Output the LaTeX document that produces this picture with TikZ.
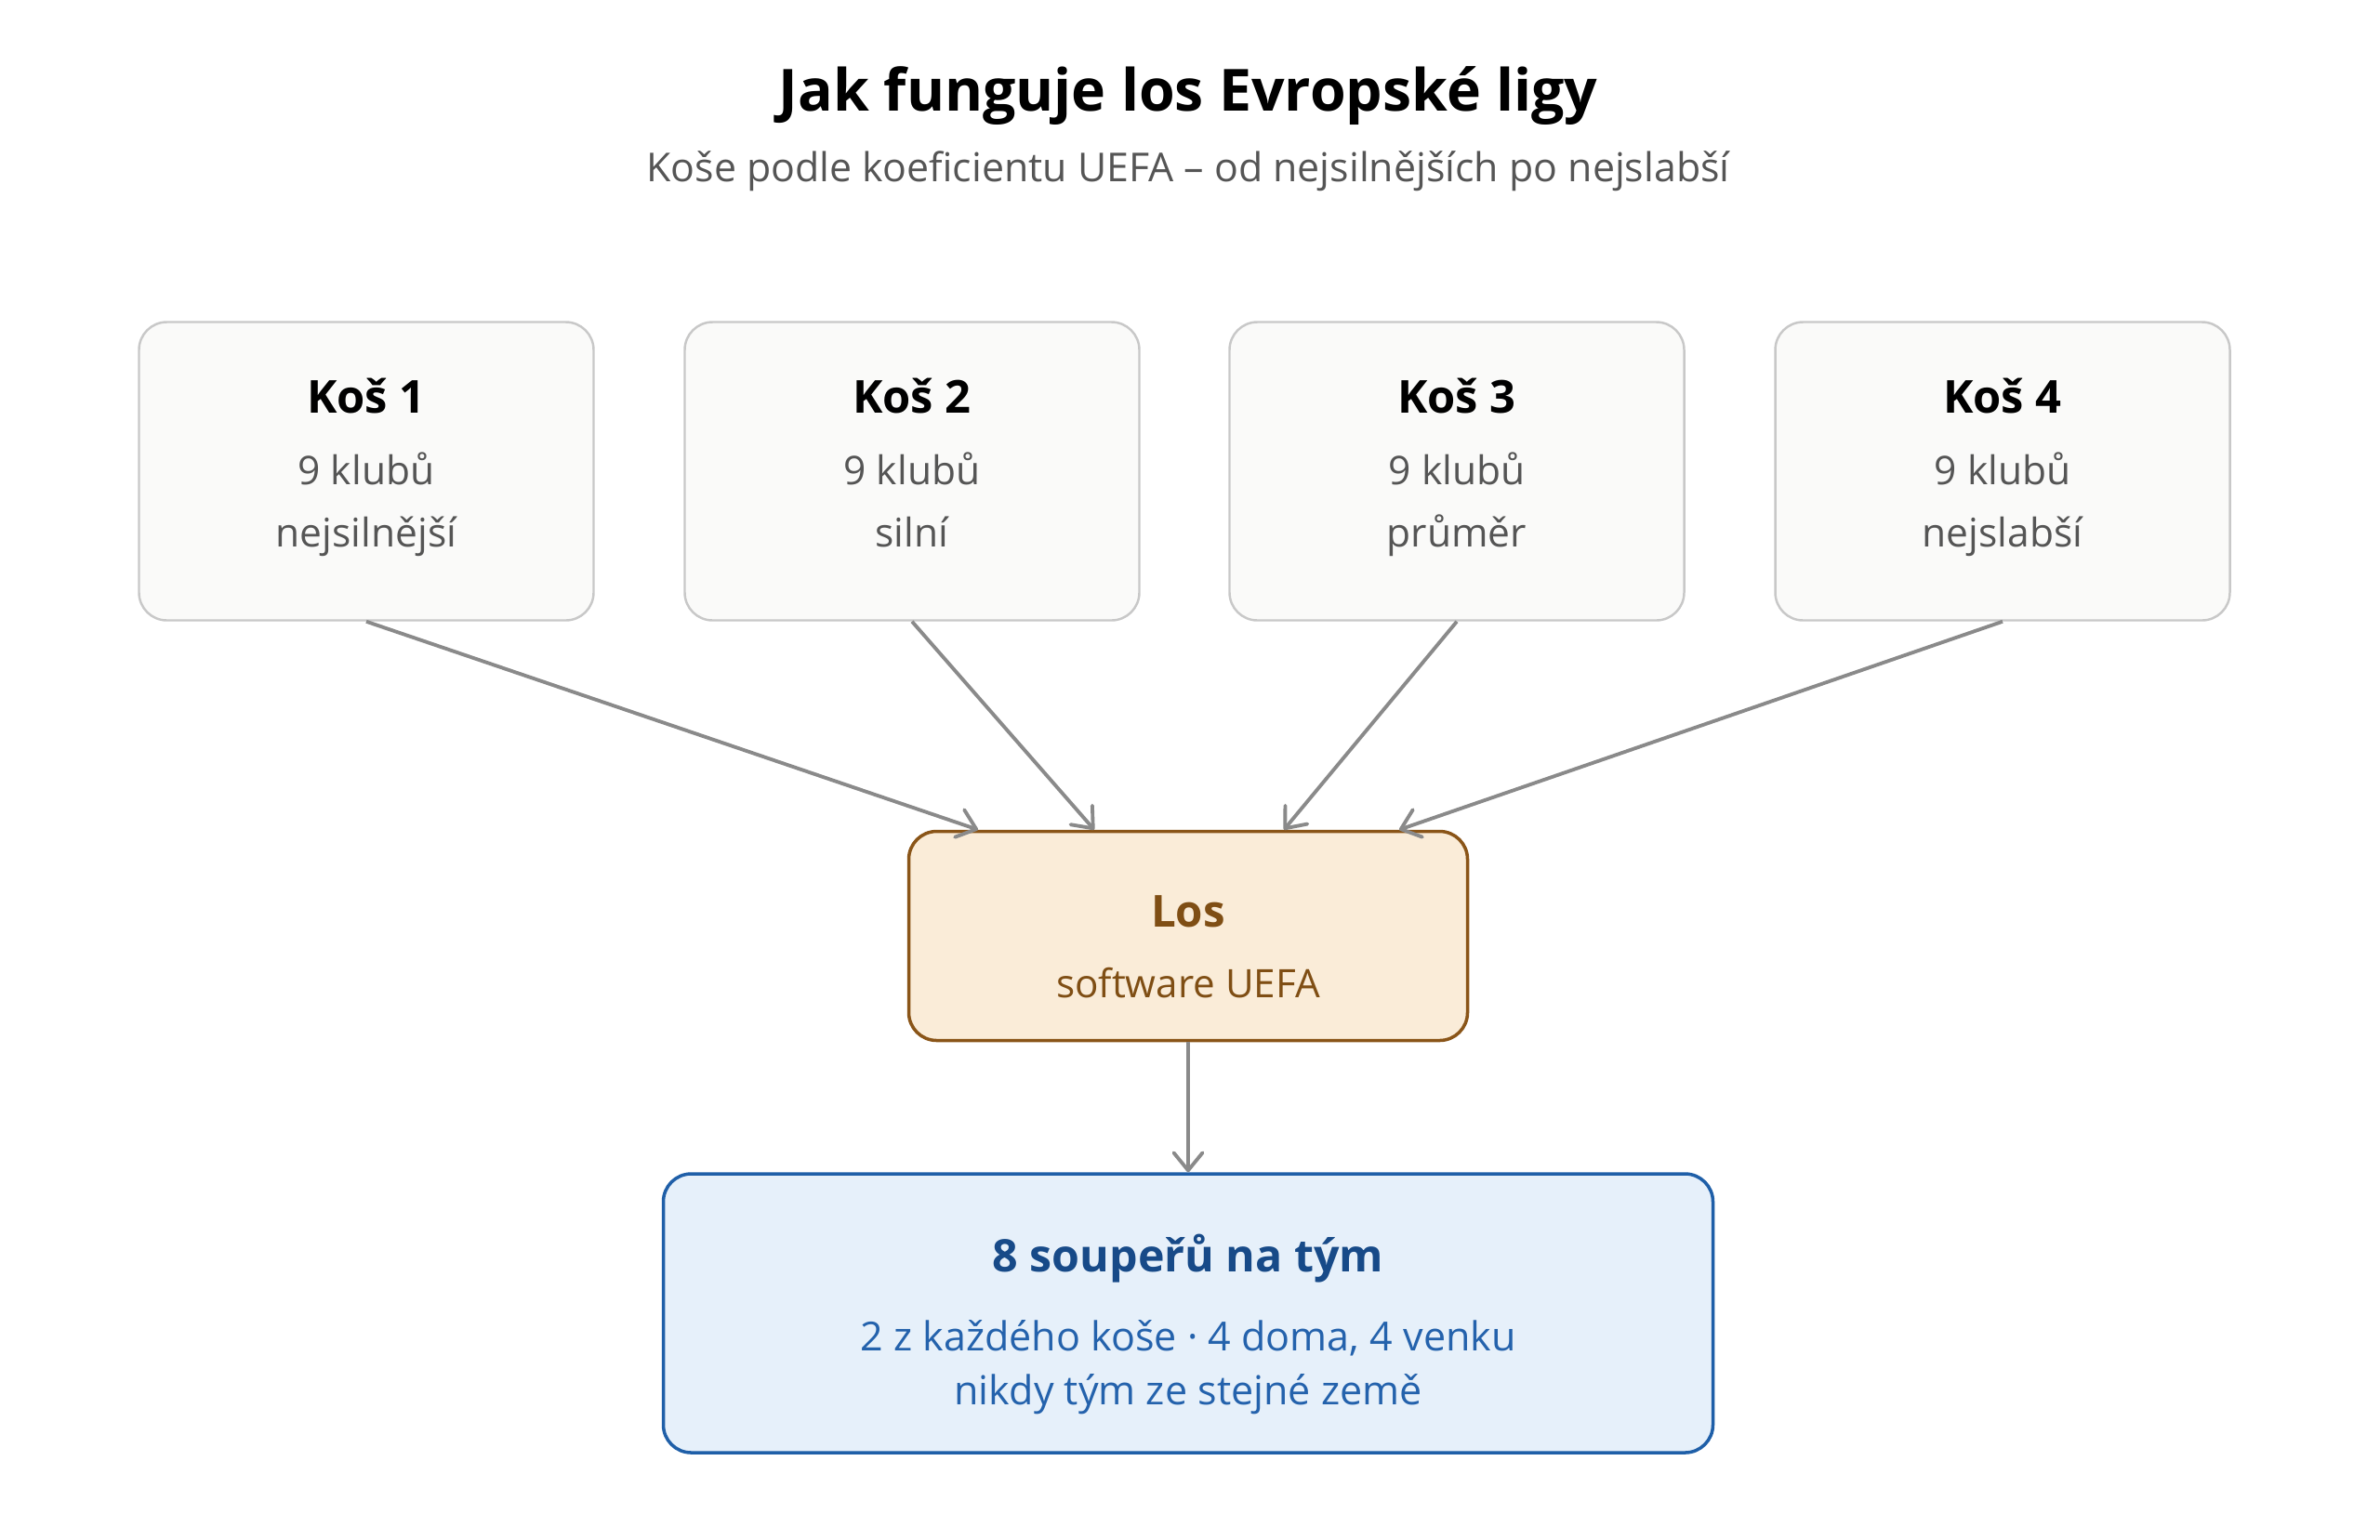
\documentclass[tikz,border=0pt]{standalone}
\usepackage{fontspec}
\setmainfont{Open Sans}
\usetikzlibrary{positioning,arrows.meta}

\definecolor{potfill}{HTML}{FAFAF9}
\definecolor{potline}{HTML}{C8C8C8}
\definecolor{subgray}{HTML}{555555}
\definecolor{drawfill}{HTML}{FAECD8}
\definecolor{drawline}{HTML}{8A5518}
\definecolor{drawtext}{HTML}{7F4E14}
\definecolor{resfill}{HTML}{E6F0FA}
\definecolor{resline}{HTML}{1F5FA8}
\definecolor{restitle}{HTML}{174A88}
\definecolor{restext}{HTML}{2462AC}
\definecolor{arrowgray}{HTML}{8A8A8A}

\tikzset{
  potbox/.style={draw=potline, fill=potfill, line width=0.7pt, rounded corners=0.3cm,
    minimum width=4.89cm, minimum height=3.21cm, align=center, font=\fontsize{12.1}{19.3}\selectfont, text=subgray},
  losbox/.style={draw=drawline, fill=drawfill, line width=1pt, rounded corners=0.3cm,
    minimum width=6.01cm, minimum height=2.25cm, align=center, font=\fontsize{12}{19.3}\selectfont, text=drawtext},
  resbox/.style={draw=resline, fill=resfill, line width=1pt, rounded corners=0.3cm,
    minimum width=11.29cm, minimum height=3.0cm, align=center, font=\fontsize{12.25}{16.6}\selectfont, text=restext},
  feed/.style={draw=arrowgray, line width=1.1pt, -{Straight Barb[length=1.9mm,width=3.1mm,round]}}
}

\begin{document}
\begin{tikzpicture}
\useasboundingbox (0,0) rectangle (25.6,-16.56);

% Title and subtitle
\node (title) at (12.78,-1.03) {\fontsize{17.8}{22}\selectfont\bfseries Jak funguje los Evropské ligy};
\node[text=subgray] (subtitle) at (12.78,-1.84) {\fontsize{12.2}{15}\selectfont Koše podle koeficientu UEFA – od nejsilnějších po nejslabší};

% The four pots
\node[potbox] (pot1) at (3.94,-5.07) {\strut{\fontsize{13.9}{21}\selectfont\bfseries\color{black} Koš 1}\\[2.5pt]9 klubů\\nejsilnější\rule[-8pt]{0pt}{8pt}};
\node[potbox] (pot2) at (9.81,-5.07) {\strut{\fontsize{13.9}{21}\selectfont\bfseries\color{black} Koš 2}\\[2.5pt]9 klubů\\silní\rule[-8pt]{0pt}{8pt}};
\node[potbox] (pot3) at (15.67,-5.07) {\strut{\fontsize{13.9}{21}\selectfont\bfseries\color{black} Koš 3}\\[2.5pt]9 klubů\\průměr\rule[-8pt]{0pt}{8pt}};
\node[potbox] (pot4) at (21.54,-5.07) {\strut{\fontsize{13.9}{21}\selectfont\bfseries\color{black} Koš 4}\\[2.5pt]9 klubů\\nejslabší\rule[-8pt]{0pt}{8pt}};

% The draw and the result
\node[losbox] (los) at (12.78,-10.07) {\rule{0pt}{22pt}{\fontsize{13.5}{21}\selectfont\bfseries Los}\\[2.5pt]software UEFA\strut};
\node[resbox] (result) at (12.78,-14.13) {\rule{0pt}{20.4pt}{\fontsize{13.75}{24}\selectfont\bfseries\color{restitle} 8 soupeřů na tým}\\[7.4pt]2 z každého koše · 4 doma, 4 venku\\nikdy tým ze stejné země\strut};

% Where the arrows enter the draw
\coordinate (in1) at ([xshift=-2.26cm]los.north);
\coordinate (in2) at ([xshift=-1.01cm]los.north);
\coordinate (in3) at ([xshift=1.03cm]los.north);
\coordinate (in4) at ([xshift=2.27cm]los.north);

% Connectors
\foreach \i in {1,...,4}
    \draw[feed] (pot\i.south) -- (in\i);
\draw[feed] (los.south) -- (result.north);
\end{tikzpicture}
\end{document}
